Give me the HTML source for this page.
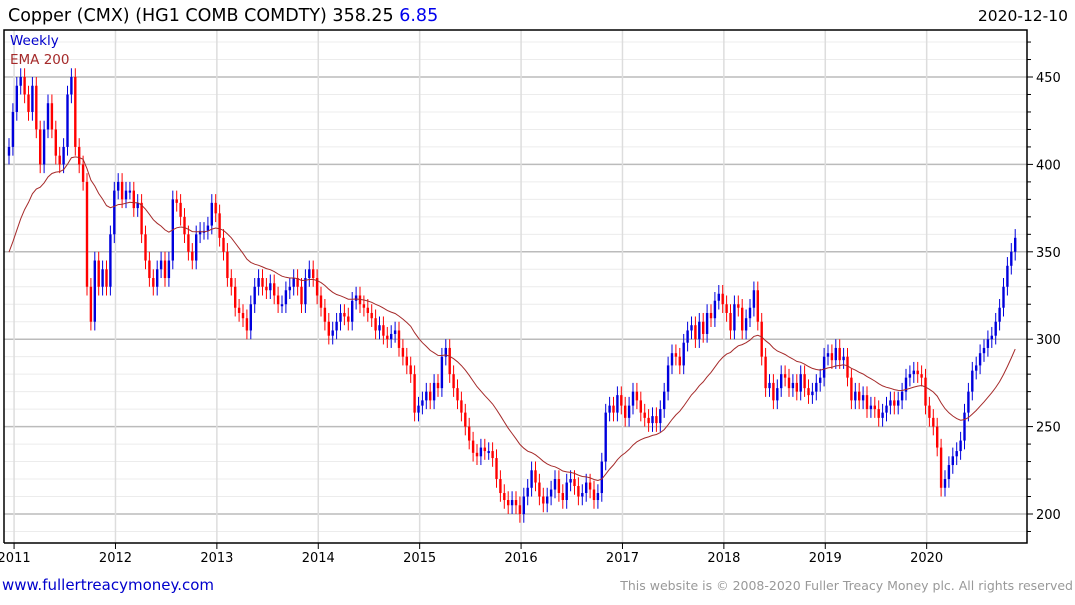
<!DOCTYPE html>
<html><head><meta charset="utf-8">
<style>
body{margin:0;background:#fff;font-family:"Liberation Sans",sans-serif;}
svg text{font-family:"DejaVu Sans","Liberation Sans",sans-serif;}
</style></head>
<body>
<svg id="chart" width="1075" height="600" xmlns="http://www.w3.org/2000/svg">
<text x="8" y="21" font-size="17.5" fill="#000">Copper (CMX) (HG1 COMB COMDTY) 358.25 <tspan fill="#0000ee">6.85</tspan></text>
<text x="1068" y="21" font-size="15.5" text-anchor="end" fill="#000">2020-12-10</text>
<g id="grid"></g>
<g id="bars"></g>
<path id="ema" fill="none" stroke="#a52a2a" stroke-width="1"/>
<g id="axes"></g>
<text x="10" y="45" font-size="13.5" fill="#0000cc">Weekly</text>
<text x="10" y="64" font-size="13.5" fill="#a52a2a">EMA 200</text>
<text x="2" y="590" font-size="15" fill="#0000cc">www.fullertreacymoney.com</text>
<text x="1073" y="590" font-size="12.5" text-anchor="end" fill="#999">This website is © 2008-2020 Fuller Treacy Money plc. All rights reserved</text>
</svg>
<script>
const closes=[
410,430,445,450,440,430,445,420,400,420,435,420,405,400,410,440,450,410,400,390,330,310,345,330,340,330,
360,385,390,380,385,385,375,378,360,345,335,330,340,345,335,345,380,378,370,360,350,345,360,362,362,365,
378,372,358,350,335,330,318,315,312,305,320,330,335,330,328,332,325,320,320,328,330,335,330,320,335,340,
335,325,318,310,302,305,310,315,313,310,322,325,320,318,315,312,305,308,302,300,303,305,295,290,285,280,
258,262,265,270,265,275,272,290,295,280,272,265,258,250,242,235,233,238,236,236,232,220,212,208,205,208,
205,200,210,215,225,218,210,206,210,214,220,212,208,218,220,216,210,212,218,214,208,212,230,258,262,258,
268,262,255,262,270,265,258,255,252,256,252,260,270,285,292,290,285,298,305,308,300,310,303,315,312,322,
326,320,315,305,320,318,305,312,318,328,310,290,272,275,265,272,280,278,272,275,270,280,272,268,270,275,
278,290,292,288,295,288,290,278,265,270,265,268,260,262,260,255,258,262,265,262,265,270,278,280,282,280,
278,262,255,250,238,215,220,228,233,236,242,258,270,282,285,292,295,300,302,310,318,330,342,350,358];
const firstOpen=405;
const emaSeed=345;
const yearLabels=["2011","2012","2013","2014","2015","2016","2017","2018","2019","2020"];
const priceLabels=[200,250,300,350,400,450];

const NS="http://www.w3.org/2000/svg";
const L=4,R=1027,T=30,B=543;
const xs=i=>9+i*3.9;
const ys=v=>77+(450-v)*1.748;
function mk(tag,attrs,parent){const e=document.createElementNS(NS,tag);for(const k in attrs)e.setAttribute(k,attrs[k]);parent.appendChild(e);return e;}
const grid=document.getElementById('grid'),bars=document.getElementById('bars'),axes=document.getElementById('axes');
for(let v=180;v<=470;v+=10){const y=ys(v);if(y<T||y>B)continue;
 const g=mk('line',{x1:L,x2:R,y1:y,y2:y,stroke:v%50===0?'#bbb':'#ececec','stroke-width':v%50===0?1.5:1},grid);
 
 const t=mk('line',{x1:R,x2:R+(v%50===0?6:4),y1:y,y2:y,stroke:'#000'},axes);
 }
priceLabels.forEach(p=>{const t=mk('text',{x:R+9,y:ys(p)+5,'font-size':13,fill:'#000'},axes);t.textContent=p;
 });
yearLabels.forEach((lab,k)=>{const x=xs(26*k+1.3);
 const g=mk('line',{x1:x,x2:x,y1:T,y2:B,stroke:'#ddd','stroke-width':1.5},grid);
 
 const t=mk('line',{x1:x,x2:x,y1:B,y2:B+6,stroke:'#000'},axes);
 
 const tx=mk('text',{x:x,y:B+19,'font-size':13,'text-anchor':'middle',fill:'#000'},axes);tx.textContent=lab;
 });
const fr=mk('path',{d:`M${L},${B}V${T}H${R}V${B}H${L}`,fill:'none',stroke:'#000','stroke-width':1.5},axes);

let prev=firstOpen,ema=emaSeed,d='';const a=2/27;
closes.forEach((c,i)=>{const x=xs(i),up=c>=prev,col=up?'#0000dd':'#ff0000';
 const hi=Math.max(c,prev)+5,lo=Math.min(c,prev)-5;
 const w=mk('line',{x1:x,x2:x,y1:ys(hi),y2:ys(lo),stroke:col,'stroke-width':1},bars);
 
 const top=ys(Math.max(c,prev)),h=Math.max(2,ys(Math.min(c,prev))-top);
 const b=mk('rect',{x:x-1.2,y:top,width:2.4,height:h,fill:col},bars);
 
 ema=ema+a*(c-ema);d+=(i?'L':'M')+x.toFixed(1)+','+ys(ema).toFixed(1);prev=c;});
document.getElementById('ema').setAttribute('d',d);
</script>
</body></html>
